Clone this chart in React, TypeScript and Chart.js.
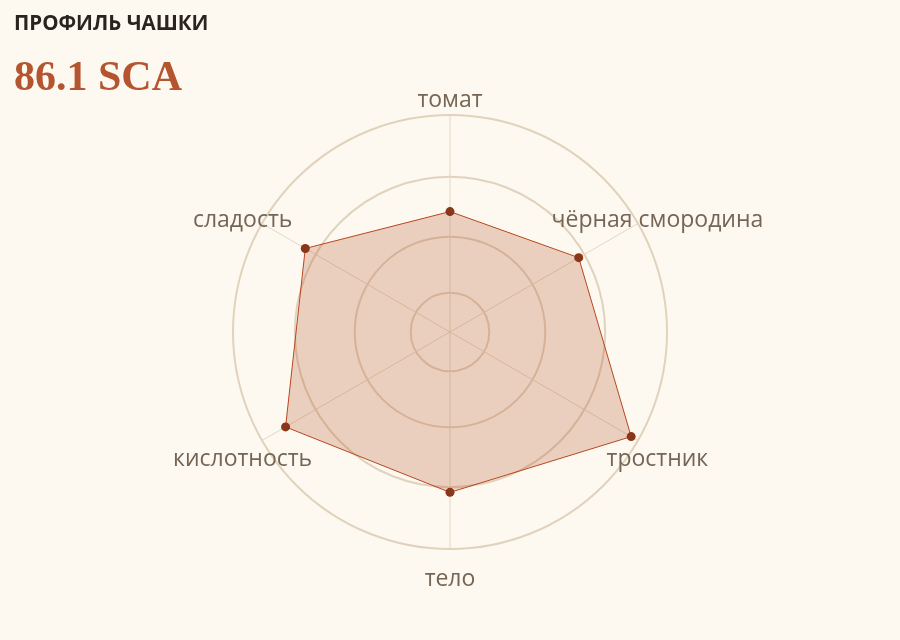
import React, { useEffect, useRef } from "react";
import { Chart, registerables } from "chart.js";

Chart.register(...registerables);

// данные профиля
const attributes = ["томат", "чёрная смородина", "тростник", "тело", "кислотность", "сладость"];
const scores = [5.55, 6.85, 9.64, 7.39, 8.75, 7.7];
const ringValues = [0, 1.81, 4.39, 7.15, 10];
const title = "ПРОФИЛЬ ЧАШКИ";
const scoreText = "86.1 SCA";

const BG = "#fdf9f1";

const App = () => {
    const chartRef = useRef<HTMLCanvasElement | null>(null);

    useEffect(() => {
        if (!chartRef.current) return;
        const ctx = chartRef.current.getContext("2d");
        if (!ctx) return;

        // подписи осей по центру, поверх сетки
        const labelPlugin = {
            id: "centerLabels",
            afterDraw(chart: any) {
                const scale = chart.scales.r;
                const c = chart.ctx;
                c.save();
                c.font = "23px 'Open Sans'";
                c.fillStyle = "#756554";
                c.textAlign = "center";
                c.textBaseline = "middle";
                attributes.forEach((label, i) => {
                    const p = scale.getPointPosition(i, 239.5);
                    c.fillText(label, p.x, p.y + 8);
                });
                c.restore();
            },
        };

        const radar = new Chart(ctx, {
            type: "radar",
            data: {
                labels: attributes,
                datasets: [
                    {
                        data: scores,
                        backgroundColor: "rgba(181, 85, 47, 0.26)",
                        borderColor: "#b8451e",
                        borderWidth: 1,
                        pointRadius: 4.5,
                        pointBackgroundColor: "#8a361a",
                        pointBorderColor: "#8a361a",
                        pointBorderWidth: 0,
                        fill: true,
                    },
                ],
            },
            options: {
                responsive: true,
                maintainAspectRatio: false,
                animation: false,
                layout: { padding: { top: 115, bottom: 91, left: 0, right: 0 } },
                plugins: {
                    legend: { display: false },
                    tooltip: { enabled: false },
                },
                scales: {
                    r: {
                        min: 0,
                        max: 10,
                        afterBuildTicks: (scale: any) => {
                            scale.ticks = ringValues.map((v) => ({ value: v }));
                        },
                        ticks: { display: false },
                        pointLabels: { display: false },
                        grid: { color: "#e1d2bc", lineWidth: 2, circular: true },
                        angleLines: { color: "#e4d6c1", lineWidth: 1 },
                    },
                },
            },
            plugins: [labelPlugin],
        });

        return () => {
            radar.destroy();
        };
    }, []);

    return (
        <div
            style={{
                position: "fixed",
                top: 0,
                left: 0,
                width: 900,
                height: 640,
                background: BG,
                overflow: "hidden",
            }}
        >
            <div style={{ position: "absolute", inset: 0 }}>
                <canvas ref={chartRef}></canvas>
            </div>
            <div
                style={{
                    position: "absolute",
                    left: 14,
                    top: 12,
                    font: "700 20.5px 'Open Sans'",
                    lineHeight: "20px",
                    color: "#2a2420",
                    whiteSpace: "nowrap",
                }}
            >
                {title}
            </div>
            <div
                style={{
                    position: "absolute",
                    left: 14,
                    top: 55,
                    font: "700 42px 'Liberation Serif'",
                    lineHeight: "42px",
                    color: "#b5552f",
                    whiteSpace: "nowrap",
                }}
            >
                {scoreText}
            </div>
        </div>
    );
};

export default App;
